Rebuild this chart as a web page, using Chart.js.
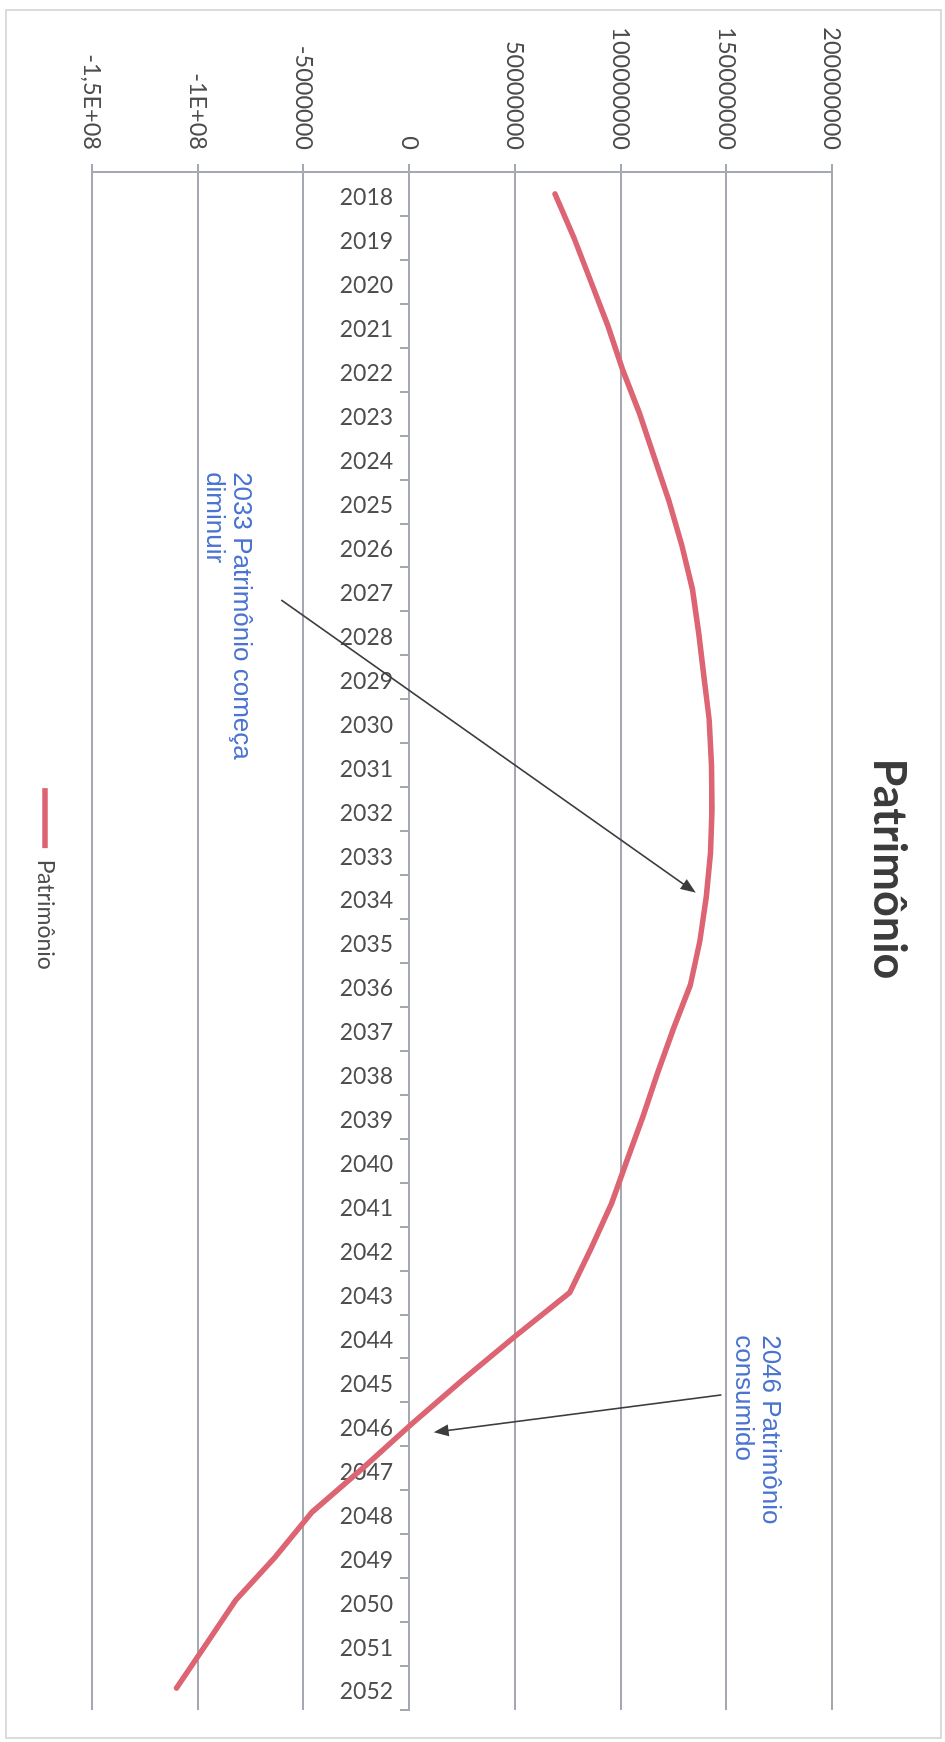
<!DOCTYPE html>
<html>
<head>
<meta charset="UTF-8">
<title>Patrimônio</title>
<script src="https://cdn.jsdelivr.net/npm/chart.js"></script>
<style>
    html, body {
        margin: 0;
        padding: 0;
        background: #ffffff;
    }
    body {
        width: 945px;
        height: 1742px;
        overflow: hidden;
        position: relative;
    }
    /* the chart is built landscape and turned a quarter clockwise, like the scanned page */
    #wrap {
        position: absolute;
        left: 0;
        top: 0;
        width: 1742px;
        height: 945px;
        transform-origin: 0 0;
        transform: translate(945px, 0) rotate(90deg);
    }
</style>
</head>
<body>
<div id="wrap">
    <canvas id="chartPatrimonio" width="1742" height="945"></canvas>
</div>
<script>
    const years = ['2018', '2019', '2020', '2021', '2022', '2023', '2024', '2025', '2026', '2027',
                   '2028', '2029', '2030', '2031', '2032', '2033', '2034', '2035', '2036', '2037',
                   '2038', '2039', '2040', '2041', '2042', '2043', '2044', '2045', '2046', '2047',
                   '2048', '2049', '2050', '2051', '2052'];

    const patrimonio = [69e6, 78e6, 86e6, 94e6, 101e6, 109e6, 116e6, 123e6, 129e6, 134e6,
                        137e6, 139.5e6, 142e6, 143e6, 143.3e6, 142.5e6, 140.5e6, 137.5e6, 133e6, 125e6,
                        117.5e6, 110.5e6, 103e6, 95.5e6, 86e6, 76e6, 50e6, 25e6, 1e6, -22e6,
                        -46e6, -63e6, -82e6, -96e6, -110e6];

    const tickValues = [-1.5e8, -1e8, -5e7, 0, 5e7, 1e8, 1.5e8, 2e8];
    const tickLabels = ['-1,5E+08', '-1E+08', '-5000000', '0', '50000000', '100000000', '150000000', '200000000'];

    // callouts: [category index, value] for text start, arrow tail and arrow tip
    const notes = [
        { lines: ['2033 Patrimônio começa', 'diminuir'], textAt: [6.33, -79.3e6], from: [9.24, -60.5e6], to: [15.9, 135.5e6] },
        { lines: ['2046 Patrimônio', 'consumido'], textAt: [25.97, 170.8e6], from: [27.33, 147.7e6], to: [28.18, 11.6e6] }
    ];

    const gridColor = '#a4a8b1';
    const labelColor = '#4d4d4d';

    const framePlugin = {
        id: 'frame',
        beforeDraw(chart) {
            const ctx = chart.ctx;
            ctx.save();
            ctx.fillStyle = '#ffffff';
            ctx.fillRect(0, 0, chart.width, chart.height);
            ctx.strokeStyle = '#cfd0d3';
            ctx.lineWidth = 1.5;
            ctx.strokeRect(10, 4, chart.width - 14, chart.height - 10);
            ctx.restore();
        },
        afterLayout(chart) {
            // legend key sits a little right of centre in the scan
            chart.legend.left += 10;
            chart.legend.right += 10;
        }
    };

    const notesPlugin = {
        id: 'notes',
        afterDraw(chart) {
            const ctx = chart.ctx;
            const x = chart.scales.x;
            const y = chart.scales.y;
            ctx.save();
            notes.forEach(n => {
                const x1 = x.getPixelForValue(n.from[0]);
                const y1 = y.getPixelForValue(n.from[1]);
                const x2 = x.getPixelForValue(n.to[0]);
                const y2 = y.getPixelForValue(n.to[1]);
                const ang = Math.atan2(y2 - y1, x2 - x1);
                const head = 15;
                const half = 6;
                const cos = Math.cos(ang);
                const sin = Math.sin(ang);

                ctx.strokeStyle = '#3d3d3d';
                ctx.fillStyle = '#3d3d3d';
                ctx.lineWidth = 1.6;
                ctx.beginPath();
                ctx.moveTo(x1, y1);
                ctx.lineTo(x2 - cos * head * 0.8, y2 - sin * head * 0.8);
                ctx.stroke();

                ctx.beginPath();
                ctx.moveTo(x2, y2);
                ctx.lineTo(x2 - cos * head + sin * half, y2 - sin * head - cos * half);
                ctx.lineTo(x2 - cos * head - sin * half, y2 - sin * head + cos * half);
                ctx.closePath();
                ctx.fill();

                ctx.fillStyle = '#4a74d0';
                ctx.font = '26px "Liberation Sans", Arial, sans-serif';
                ctx.textAlign = 'left';
                ctx.textBaseline = 'middle';
                const tx = x.getPixelForValue(n.textAt[0]);
                const ty = y.getPixelForValue(n.textAt[1]);
                n.lines.forEach((line, i) => {
                    ctx.fillText(line, tx, ty + i * 27);
                });
            });
            ctx.restore();
        }
    };

    function renderChart() {
        Chart.defaults.font.family = 'Lato, "Open Sans", sans-serif';

        const ctx = document.getElementById('chartPatrimonio').getContext('2d');

        new Chart(ctx, {
            type: 'line',
            data: {
                labels: years,
                datasets: [{
                    label: 'Patrimônio',
                    data: patrimonio,
                    borderColor: '#dc6473',
                    backgroundColor: '#dc6473',
                    borderWidth: 5.5,
                    borderCapStyle: 'round',
                    borderJoinStyle: 'round',
                    pointRadius: 0,
                    tension: 0,
                    fill: false
                }]
            },
            options: {
                responsive: false,
                animation: false,
                devicePixelRatio: 1,
                layout: {
                    padding: { left: 28, right: 32, top: 0, bottom: 23.5 }
                },
                plugins: {
                    title: {
                        display: true,
                        text: 'Patrimônio',
                        color: '#3c3c3c',
                        font: { size: 45, weight: 'bold' },
                        padding: { top: 29, bottom: 30 }
                    },
                    legend: {
                        position: 'bottom',
                        labels: {
                            usePointStyle: true,
                            pointStyle: 'line',
                            pointStyleWidth: 60,
                            color: labelColor,
                            font: { size: 23 },
                            padding: 35.5
                        }
                    },
                    tooltip: { enabled: false }
                },
                scales: {
                    x: {
                        type: 'category',
                        offset: true,
                        position: { y: 0 },
                        grid: {
                            offset: true,
                            drawOnChartArea: false,
                            drawTicks: true,
                            tickLength: 8,
                            color: gridColor,
                            lineWidth: 2
                        },
                        border: { display: true, color: gridColor, width: 2 },
                        ticks: {
                            autoSkip: false,
                            minRotation: 90,
                            maxRotation: 90,
                            padding: 8,
                            labelOffset: 4,
                            color: labelColor,
                            font: { size: 23 }
                        }
                    },
                    y: {
                        min: -1.5e8,
                        max: 2e8,
                        afterBuildTicks: scale => {
                            scale.ticks = tickValues.map(v => ({ value: v }));
                        },
                        afterFit: scale => {
                            scale.width = 144;
                        },
                        grid: {
                            color: gridColor,
                            lineWidth: 2,
                            drawTicks: true,
                            tickLength: 8
                        },
                        border: { display: true, color: gridColor, width: 2 },
                        ticks: {
                            padding: 14,
                            color: labelColor,
                            font: { size: 23.5 },
                            callback: function(value) {
                                const i = tickValues.findIndex(v => Math.abs(v - value) < 1);
                                return i >= 0 ? tickLabels[i] : '';
                            }
                        }
                    }
                }
            },
            plugins: [framePlugin, notesPlugin]
        });
    }

    window.onload = function () {
        renderChart();
    };
</script>
</body>
</html>
